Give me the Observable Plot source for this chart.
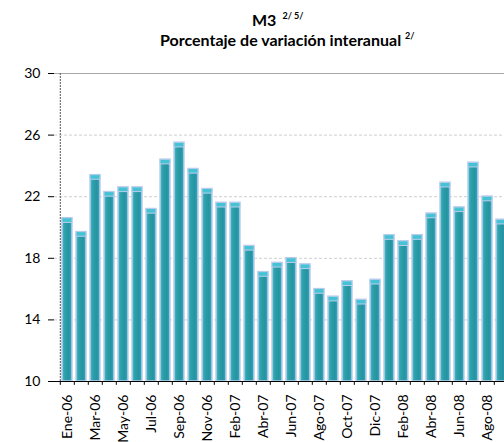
<!DOCTYPE html>
<html><head><meta charset="utf-8">
<script src="https://cdn.jsdelivr.net/npm/d3@7"></script>
<script src="https://cdn.jsdelivr.net/npm/@observablehq/plot@0.6"></script>
<style>
html,body{margin:0;padding:0;overflow:hidden;background:#fff;width:504px;height:442px;}
#wrap{position:relative;width:504px;height:442px;overflow:hidden;}
.t{position:absolute;white-space:nowrap;font-family:Lato,"Open Sans",sans-serif;font-weight:bold;color:#000;line-height:1;}
.t sup{font-size:9px;vertical-align:0;position:relative;top:-7px;}
</style></head>
<body><div id="wrap">
<div class="t" style="top:12px;left:252px;font-size:16px;">M3 <sup>&nbsp;2/ 5/</sup></div>
<div class="t" style="top:32px;left:160px;font-size:16px;">Porcentaje de variación interanual <sup>2/</sup></div>
</div>
<script>
const months = ["Ene-06","Feb-06","Mar-06","Abr-06","May-06","Jun-06","Jul-06","Ago-06","Sep-06","Oct-06","Nov-06","Dic-06",
  "Feb-07","Mar-07","Abr-07","May-07","Jun-07","Jul-07","Ago-07","Sep-07","Oct-07","Nov-07","Dic-07",
  "Ene-08","Feb-08","Mar-08","Abr-08","May-08","Jun-08","Jul-08","Ago-08","Sep-08"];
const values = [20.6,19.7,23.4,22.3,22.6,22.6,21.2,24.4,25.5,23.8,22.5,21.6,
  21.6,18.8,17.1,17.7,18.0,17.6,16.0,15.5,16.5,15.3,16.6,
  19.5,19.1,19.5,20.9,22.9,21.3,24.2,22.0,20.5];
const shownLabels = ["Ene-06","Mar-06","May-06","Jul-06","Sep-06","Nov-06","Feb-07","Abr-07","Jun-07","Ago-07","Oct-07","Dic-07","Feb-08","Abr-08","Jun-08","Ago-08"];
const yTicks = [10,14,18,22,26,30];
const gridTicks = [14,18,22,26];

const data = months.map((m,i)=>({m, v: values[i]}));
const font = 'Lato, "Open Sans", sans-serif';

const chart = Plot.plot({
  width: 520, height: 442,
  marginLeft: 54, marginRight: 5, marginTop: 73, marginBottom: 61,
  style: {fontFamily: font, fontSize: "14px", color: "#000", background: "transparent", overflow: "visible", maxWidth: "none"},
  x: {domain: months, paddingInner: 0.27, paddingOuter: 0.135, axis: null},
  y: {domain: [10,30], axis: null},
  marks: [
    Plot.ruleY(gridTicks, {stroke: "#cfcfcf", strokeDasharray: "3,2", strokeWidth: 1}),
    Plot.ruleY([30], {stroke: "#a8a8a8", strokeWidth: 1.2}),
    Plot.barY(data, {x: "m", y1: 10, y2: "v", fill: "url(#bargrad)", stroke: "#bccdec", strokeWidth: 1.5}),
    Plot.barY(data, {x: "m", y1: d => d.v - 0.3, y2: "v", fill: "#45c3d4", stroke: "#bccdec", strokeWidth: 1}),
    Plot.ruleX([months[0]], {x: d => d, dx: -7.2, y1: 10, y2: 30, stroke: "#555", strokeDasharray: "2,1"}),
    Plot.ruleY([10], {stroke: "#000", strokeWidth: 1.2}),
    Plot.ruleX(months, {x: d => d, dx: -7.2, y1: 10, y2: 9.75, stroke: "#000"}),
    Plot.axisY({ticks: yTicks, tickSize: 6, tickPadding: 8, fontSize: 14, tickFormat: d => String(d), stroke: "#000", label: null}),
    Plot.axisX({ticks: shownLabels, tickRotate: -90, tickSize: 0, tickPadding: 13, fontSize: 14, label: null})
  ]
});
document.getElementById("wrap").appendChild(chart);
chart.style.position = "absolute";
chart.style.left = "0px";
chart.style.top = "0px";
chart.style.maxWidth = "none";

const ns = "http://www.w3.org/2000/svg";
const defs = document.createElementNS(ns, "defs");
defs.innerHTML = `<linearGradient id="bargrad" x1="0" x2="1" y1="0" y2="0">
  <stop offset="0" stop-color="#4cbccb"/>
  <stop offset="0.3" stop-color="#2aa0aa"/>
  <stop offset="0.7" stop-color="#2593a0"/>
  <stop offset="1" stop-color="#3aaec4"/>
</linearGradient>`;
chart.insertBefore(defs, chart.firstChild);
</script>
</body></html>
